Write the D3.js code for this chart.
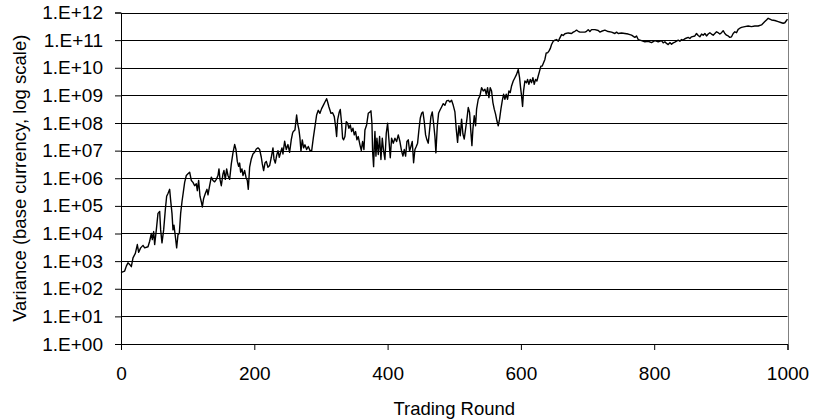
<!DOCTYPE html>
<html>
<head>
<meta charset="utf-8">
<script src="https://cdn.jsdelivr.net/npm/d3@7"></script>
<style>
body { margin: 0; background: #fff; }
text { font-family: "Liberation Sans", Arial, sans-serif; }
</style>
</head>
<body>
<div id="chart"></div>
<script>
// trading round (x) and log10 of variance (y)
var tradingRound = [0,1.5,5.5,8,10.5,13,15.5,18,21.5,24.5,26.5,29.5,33,35.5,40.5,43,45.5,47,49,50.5,53,55.5,58,59.5,61.5,64,66.5,68.5,70.5,73,74.5,76.5,78,79.5,81.5,83.5,85.5,87.5,89.5,91.5,93.5,95.5,98,100.5,103,105.5,108,110.5,113,114.5,116.5,118.5,120.5,122,124,126.5,129,130.5,133,135.5,138,140.5,143,145.5,147,148.5,150.5,153,154.5,156.5,158.5,160.5,163,165.5,168,170.5,172.5,174.5,176.5,178,179.5,181.5,183,185.5,187.5,189.5,191,193,195.5,198,200.5,203,205.5,208,210.5,212,214,216,218,220.5,223,225.5,228,229.5,231.5,233.5,235.5,237.5,239.5,241.5,243,245.5,248,250.5,253,255.5,257.5,
  258.5,261,263.5,265,267,268.5,270,272,274,276,278.5,281,283.5,286,288.5,291,293.5,296,298.5,301,303.5,306,308.5,310,312,315,317.5,320,322,323.5,325,327.5,329,331,332.5,334,336,338,340,342,344,346,348,350,352,354,356,358.5,360.5,362.5,364.5,366,368.5,371,373.5,375,376.5,377.5,379,380,381,382.5,384,386,388,390,392,394,396,398,400,402,404,406,408.5,411,413.5,416,418.5,421,423,425,427,429,431,433,435,437,439,441,443,445,447,449,451,453,455,457,459,461,463,465,467,469,471,472.5,474.5,476.5,478.5,481,483.5,486,488.5,491,493.5,496,498.5,501,
  503,505,507,509,511,513,515,517,519,521,523,525,526.5,528,530,532,533.5,536,538.5,541,543.5,546,548,550,552,554,556,558,560,562,564,566,568,570,572,574,576,578,580,582,584,586,588.5,591,593.5,596,598,599.5,601,602.5,604,606,608.5,610,612,614,616,618,620,622,624,626,628,630,632,634,636,638,640,642,644,646,648.5,651,653.5,656,658.5,661,663.5,666,671,676,678.5,681,683.5,686,688.5,691,696,698.5,701,703.5,706,711,716,718.5,721,726,731,736,741,743.5,746,751,
  761,766,771,773.5,776,781,786,791,796,801,806,811,813.5,816,818.5,821,823.5,826,828.5,831,836,838.5,841,843.5,846,851,853.5,856,861,863.5,866,868.5,871,873.5,876,878.5,881,883.5,886,888.5,891,893.5,896,898.5,901,903.5,906,908.5,911,913.5,916,918.5,921,923.5,926,928.5,931,936,941,946,951,956,961,963.5,966,968.5,971,973.5,976,981,986,991,993.5,996,998.5,1000];

var varianceExp = [2.58,2.6,2.64,2.82,2.94,2.88,2.8,3.12,3.28,3.6,3.32,3.48,3.57,3.48,3.52,3.72,4.0,3.78,4.07,3.6,4.13,4.73,4.8,4.13,3.66,4.13,4.86,5.35,5.45,5.6,5.2,4.73,4.13,4.3,3.9,3.48,3.96,4.0,4.73,5.15,5.5,5.85,6.1,6.16,6.22,5.92,5.85,5.73,5.8,5.55,5.92,5.35,5.15,4.96,5.27,5.45,5.6,5.4,5.73,6.04,5.92,5.87,5.96,6.1,6.34,5.96,5.73,6.16,6.28,5.96,6.34,6.1,5.96,6.52,6.92,7.22,7.04,6.61,6.43,6.55,6.22,6.34,6.1,6.28,6.04,5.92,5.6,6.4,6.7,6.88,6.94,7.06,7.1,7.04,6.76,6.52,6.28,6.55,6.61,6.4,6.46,6.76,7.1,6.7,6.55,6.82,7.0,6.76,6.94,7.1,6.88,7.34,7.04,7.22,6.94,7.4,7.64,
  7.69,7.75,8.29,7.99,7.75,7.45,6.98,7.39,7.1,7.21,7.04,7.15,7.01,6.98,7.45,7.87,8.29,8.46,8.35,8.52,8.64,8.76,8.88,8.76,8.58,8.35,8.37,8.23,7.87,7.51,8.11,8.4,8.49,7.99,7.45,7.39,7.51,8.05,7.99,7.81,7.93,7.69,7.81,7.57,7.69,7.39,7.51,7.21,7.01,7.33,7.04,7.75,7.93,8.35,8.4,8.44,7.99,6.98,6.42,7.15,7.69,6.8,7.45,6.86,7.51,6.68,7.45,6.98,6.68,7.63,7.99,7.39,6.74,7.45,7.27,7.45,7.33,7.57,7.33,6.98,6.8,7.04,6.8,7.33,7.39,6.98,7.15,7.33,6.56,7.04,7.15,7.27,7.75,8.17,8.35,8.4,8.05,7.57,7.39,7.27,7.75,8.23,8.4,7.99,7.51,6.92,7.87,8.35,8.46,8.58,8.7,8.64,8.8,8.82,8.76,8.82,8.64,8.4,
  7.78,7.3,7.9,7.54,8.14,7.6,7.42,7.78,8.14,8.56,8.38,7.66,7.18,7.78,8.26,7.9,8.5,8.86,8.98,9.28,9.16,9.22,9.04,9.28,8.92,9.28,9.16,8.74,8.5,8.32,8.08,7.9,8.14,8.5,8.8,9.04,8.86,9.04,8.86,9.16,9.1,9.34,9.52,9.64,9.76,9.94,9.64,9.28,8.98,8.6,9.16,9.52,9.46,9.58,9.4,9.58,9.46,9.64,9.4,9.58,9.52,9.7,9.88,10.06,10.06,10.18,10.3,10.54,10.54,10.6,10.69,10.84,10.96,11.0,11.02,10.96,11.08,11.2,11.17,11.23,11.26,11.24,11.29,11.32,11.36,11.32,11.29,11.29,11.29,11.32,11.38,11.31,11.38,11.38,11.35,11.29,11.32,11.36,11.31,11.29,11.24,11.29,11.24,11.26,
  11.22,11.18,11.1,11.15,11.02,10.98,10.94,10.96,10.91,10.98,10.94,10.98,10.9,10.94,10.88,10.84,10.91,10.85,10.9,10.93,11.0,10.96,11.02,11.0,11.05,11.1,11.06,11.12,11.15,11.24,11.17,11.12,11.22,11.18,11.24,11.15,11.22,11.27,11.22,11.18,11.24,11.3,11.27,11.22,11.27,11.34,11.24,11.18,11.15,11.1,11.12,11.24,11.3,11.27,11.39,11.43,11.46,11.49,11.51,11.49,11.51,11.51,11.55,11.61,11.67,11.73,11.79,11.76,11.73,11.71,11.67,11.63,11.61,11.63,11.71,11.76];

var yTickValues = [1e0,1e1,1e2,1e3,1e4,1e5,1e6,1e7,1e8,1e9,1e10,1e11,1e12];
var yTickLabels = ["1.E+00","1.E+01","1.E+02","1.E+03","1.E+04","1.E+05","1.E+06","1.E+07","1.E+08","1.E+09","1.E+10","1.E+11","1.E+12"];
var xTickValues = [0,200,400,600,800,1000];

var width = 813, height = 419;
var plotLeft = 121, plotRight = 787.5, plotTop = 12.5, plotBottom = 344;

var data = tradingRound.map(function(r, i) {
    return {x: r, y: Math.pow(10, varianceExp[i])};
});

var svg = d3.select("#chart")
    .append("svg")
    .attr("width", width)
    .attr("height", height);

var xScale = d3.scaleLinear().domain([0, 1000]).range([plotLeft, plotRight]);
var yScale = d3.scaleLog().domain([1, 1e12]).range([plotBottom, plotTop]);

// gridlines
svg.append("g")
    .selectAll("line")
    .data(yTickValues.slice(1))
    .enter()
    .append("line")
    .attr("x1", plotLeft)
    .attr("x2", plotRight)
    .attr("y1", function(d) { return Math.round(yScale(d)) + 0.5; })
    .attr("y2", function(d) { return Math.round(yScale(d)) + 0.5; })
    .attr("stroke", "#000")
    .attr("stroke-width", 1);

// right border
svg.append("line")
    .attr("x1", Math.round(plotRight) + 0.5)
    .attr("x2", Math.round(plotRight) + 0.5)
    .attr("y1", plotTop)
    .attr("y2", plotBottom)
    .attr("stroke", "#808080")
    .attr("stroke-width", 1);

// y axis
var yAxis = d3.axisLeft(yScale)
    .tickValues(yTickValues)
    .tickFormat(function(d, i) { return yTickLabels[i]; })
    .tickSize(6)
    .tickPadding(12);

var gy = svg.append("g")
    .attr("transform", "translate(" + plotLeft + ",0)")
    .call(yAxis);
gy.selectAll("text").style("font-size", "19px").attr("fill", "#000");

// x axis
var xAxis = d3.axisBottom(xScale)
    .tickValues(xTickValues)
    .tickFormat(d3.format("d"))
    .tickSize(6)
    .tickPadding(17);

var gx = svg.append("g")
    .attr("transform", "translate(0," + plotBottom + ")")
    .call(xAxis);
gx.selectAll("text").style("font-size", "19px").attr("fill", "#000");

svg.selectAll(".domain").attr("stroke", "#000");
svg.selectAll(".tick line").attr("stroke", "#000");

// the series
svg.append("path")
    .datum(data)
    .attr("fill", "none")
    .attr("stroke", "#000")
    .attr("stroke-width", 1.4)
    .attr("stroke-linejoin", "round")
    .attr("d", d3.line()
        .x(function(d) { return xScale(d.x); })
        .y(function(d) { return yScale(d.y); }));

// axis titles
svg.append("text")
    .attr("x", (plotLeft + plotRight) / 2)
    .attr("y", 415)
    .attr("text-anchor", "middle")
    .style("font-size", "18.5px")
    .text("Trading Round");

svg.append("text")
    .attr("transform", "translate(26," + ((plotTop + plotBottom) / 2) + ") rotate(-90)")
    .attr("text-anchor", "middle")
    .style("font-size", "18.5px")
    .text("Variance (base currency, log scale)");
</script>
</body>
</html>
